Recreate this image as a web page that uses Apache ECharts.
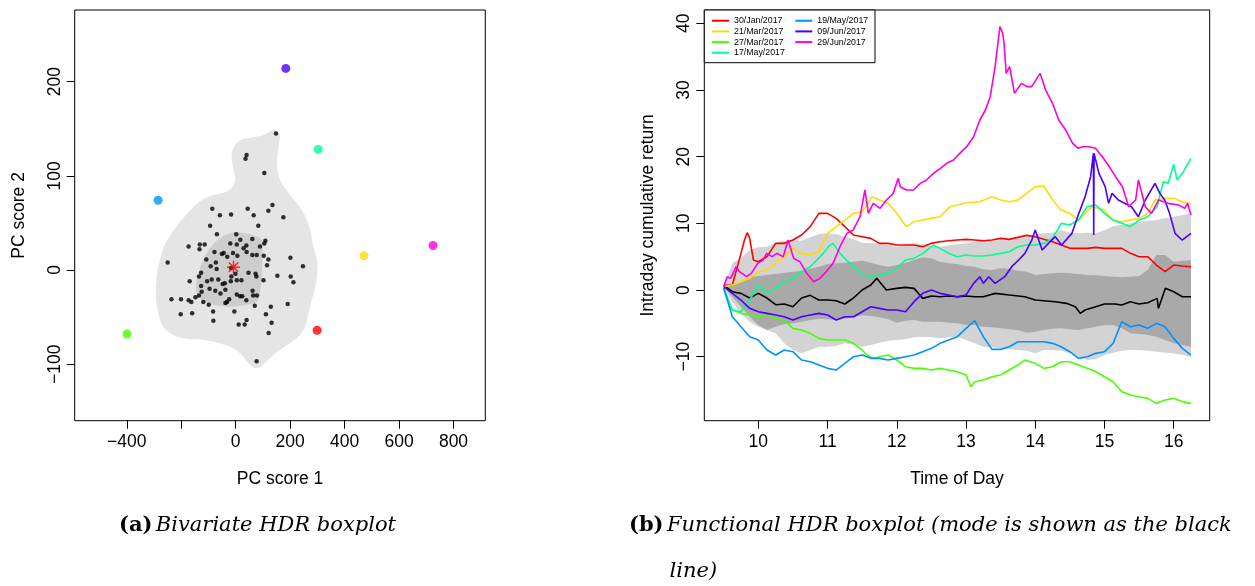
<!DOCTYPE html>
<html>
<head>
<meta charset="utf-8">
<script src="https://cdn.jsdelivr.net/npm/echarts@6.0.0/dist/echarts.min.js"></script>
<style>
  html, body { margin: 0; padding: 0; background: #fff; }
  #chart { width: 1255px; height: 586px; }
</style>
</head>
<body>
<div id="chart"></div>
<script>
// ---- (a) bivariate HDR boxplot: PC scores ----
const pcScores = [
  [148,145],[40,122],[36,118],[105,103],[-86,65],[-58,58],[-17,59],[44,65],[66,58],[135,69],
  [120,63],[175,56],[-94,47],[83,47],[-69,38],[2,38],[17,32],[61,33],[-173,25],[-132,27],
  [-114,27],[-133,22],[-20,28],[4,27],[39,26],[29,23],[89,25],[105,28],[109,31],[61,16],
  [77,16],[103,15],[120,11],[201,13],[-108,11],[-78,19],[-51,17],[-44,18],[-31,14],[-10,18],
  [6,15],[40,19],[-250,8],[-92,4],[-73,8],[-70,1],[-17,2],[-16,-7],[-1,-4],[47,-3],
  [73,-4],[76,-7],[115,5],[153,-6],[202,-7],[247,4],[-169,-12],[-135,-7],[-127,-3],[-105,-12],
  [-88,-10],[-64,-10],[-48,-15],[-40,-14],[-18,-12],[4,-11],[21,-11],[102,-11],[212,-13],[-127,-17],
  [-125,-23],[-96,-20],[-75,-22],[-56,-25],[-38,-21],[-236,-31],[-201,-31],[-173,-32],[-163,-34],[-148,-29],
  [-135,-27],[-119,-34],[-99,-37],[-38,-35],[-32,-34],[-24,-31],[4,-26],[16,-28],[24,-28],[39,-32],
  [64,-27],[62,-22],[78,-27],[70,-38],[-202,-47],[-160,-46],[-83,-44],[-82,-54],[-5,-44],[40,-53],
  [11,-58],[33,-58],[111,-47],[129,-39],[132,-56],[191,-36],[121,-67],[77,-97]
];
const outlierScores = [[299,-64],[471,15],[-399,-68],[303,128],[-285,74],[184,214],[725,26]];
const modeScore = [-8, 3];

// HDR region boundaries (outer = lighter, inner = 50% region)
const outerRegion = [
  [144,149],[163,143],[160,135],[154,124],[153,106],[169,92],[200,80],[230,69],[255,57],[273,43],
  [285,25],[298,11],[300,0],[295,-14],[279,-32],[267,-46],[255,-60],[230,-71],[187,-80],[144,-89],
  [114,-97],[89,-103],[71,-104],[47,-99],[22,-90],[-9,-83],[-58,-78],[-119,-74],[-180,-73],[-229,-69],
  [-266,-60],[-284,-46],[-293,-28],[-290,-7],[-278,11],[-260,27],[-235,39],[-204,51],[-168,63],[-131,73],
  [-88,79],[-45,82],[-15,87],[-2,96],[-11,110],[-15,122],[-2,133],[28,139],[65,141],[102,143],[126,147]
];
const innerRegion = [
  [4,40],[65,37],[96,32],[98,18],[96,-4],[89,-25],[77,-34],[40,-37],[-9,-39],
  [-58,-38],[-107,-35],[-137,-28],[-146,-18],[-137,-4],[-119,11],[-94,23],[-58,34],[-21,39]
];

// ---- (b) functional HDR boxplot: intraday cumulative returns ----
const curveNames = ['30/Jan/2017', '21/Mar/2017', '27/Mar/2017', '17/May/2017', '19/May/2017', '09/Jun/2017', '29/Jun/2017'];

const bandTimes = [9.5,9.625,9.75,9.875,10,10.125,10.25,10.375,10.5,10.625,10.75,10.875,11,11.125,11.25,11.375,11.5,11.625,11.75,11.875,
  12,12.125,12.25,12.375,12.5,12.625,12.75,12.875,13,13.125,13.25,13.375,13.5,13.625,13.75,13.875,14,14.125,14.25,14.375,
  14.5,14.625,14.75,14.875,15,15.125,15.25,15.375,15.5,15.625,15.75,15.875,16,16.125,16.25];
const outerUpper = [0.5,4.0,4.75,6.0,6.4,6.5,7.1,7.4,7.5,7.4,7.9,8.4,8.5,8.35,8.0,7.6,7.1,7.0,7.0,6.7,
  6.5,6.75,7.0,6.85,6.6,6.5,6.7,6.85,7.0,7.25,7.5,7.4,7.5,7.5,7.7,7.9,8.4,8.5,8.6,9.0,
  8.6,8.5,8.6,8.5,9.0,9.6,9.75,10.0,10.25,10.4,10.5,10.75,11.0,11.25,11.5];
const outerLower = [0.5,-1.75,-3.5,-4.75,-5.5,-6.0,-6.5,-8.0,-9.0,-9.5,-9.0,-8.5,-8.5,-8.4,-8.0,-8.25,-8.5,-8.25,-7.9,-7.6,
  -7.5,-7.4,-7.1,-7.0,-7.1,-7.25,-7.1,-7.0,-7.5,-8.0,-8.5,-8.6,-8.75,-8.9,-9.0,-9.1,-9.5,-9.0,-9.0,-9.1,
  -9.5,-10.0,-10.5,-10.4,-9.75,-9.4,-9.1,-9.0,-9.0,-9.1,-9.25,-9.4,-9.5,-9.75,-10.0];
const innerUpper = [0.5,0.75,1.25,1.9,2.1,2.25,2.4,2.6,2.75,2.9,3.2,3.5,3.9,4.0,4.1,4.25,4.4,4.1,3.75,3.5,
  3.75,4.1,4.5,4.9,4.75,4.25,4.0,3.9,3.6,3.5,3.1,3.0,3.25,3.2,2.9,2.75,2.25,2.4,2.5,2.6,
  2.5,2.4,2.25,2.2,2.1,2.0,1.9,2.0,2.1,3.0,5.25,5.25,4.25,4.4,4.5];
const innerLower = [0.5,-1.0,-2.5,-4.0,-5.25,-6.0,-5.5,-5.1,-5.0,-4.75,-4.5,-4.3,-4.4,-4.5,-4.3,-4.1,-3.8,-3.9,-4.1,-4.4,
  -4.9,-4.6,-4.5,-4.75,-4.75,-4.75,-4.9,-5.0,-5.25,-5.25,-5.5,-5.6,-5.75,-5.9,-6.0,-6.4,-6.25,-6.0,-5.8,-5.75,
  -5.9,-6.0,-5.75,-5.5,-5.3,-5.25,-5.75,-6.5,-6.6,-6.75,-7.0,-7.5,-8.0,-8.25,-8.5];

const modeCurve = [[9.5,0.7],[9.625,-0.25],[9.75,-0.5],[9.875,-1.2],[10,-0.5],[10.125,-1.2],[10.25,-2.2],[10.375,-2.1],[10.5,-2.5],
  [10.625,-1.2],[10.75,-0.8],[10.875,-1.5],[11,-1.5],[11.125,-1.6],[11.25,-2.1],[11.375,-1.2],[11.5,0],[11.625,0.75],[11.71,1.75],
  [11.85,0],[12,0.25],[12.125,0.4],[12.25,0.25],[12.375,-1.25],[12.5,-0.9],[12.625,-1.0],[12.75,-0.9],[12.875,-1.0],[13,-0.9],
  [13.13,-1.0],[13.25,-1.0],[13.42,-0.5],[13.625,-0.75],[13.85,-1.0],[14,-1.5],[14.125,-1.6],[14.29,-1.75],[14.45,-2.0],[14.58,-2.5],
  [14.65,-3.5],[14.72,-3.0],[14.875,-2.5],[15,-2.1],[15.15,-2.1],[15.25,-2.25],[15.375,-1.75],[15.5,-2.1],[15.625,-1.9],[15.76,-1.25],
  [15.78,-2.75],[15.88,0.25],[16,-0.25],[16.125,-1.0],[16.25,-1.0]];

const red30Jan = [[9.5,0.7],[9.625,0.75],[9.75,5.5],[9.8,7.5],[9.84,8.6],[9.875,7.8],[9.93,4.5],[10,4.25],[10.125,5.0],[10.25,7.0],
  [10.375,7.0],[10.5,7.5],[10.625,8.25],[10.75,9.5],[10.875,11.5],[11,11.5],[11.125,10.75],[11.25,9.5],[11.375,8.25],[11.5,8.0],
  [11.625,7.75],[11.75,7.0],[11.875,7.0],[12,6.75],[12.125,6.75],[12.25,6.75],[12.375,6.5],[12.5,7.0],[12.625,7.25],[12.75,7.4],
  [12.875,7.5],[13,7.6],[13.125,7.5],[13.25,7.4],[13.375,7.5],[13.5,7.75],[13.625,7.6],[13.75,7.9],[13.875,8.2],[14,8.0],
  [14.125,7.6],[14.25,7.25],[14.375,6.75],[14.5,6.25],[14.625,6.25],[14.75,6.25],[14.875,6.4],[15,6.25],[15.125,6.25],[15.25,6.25],
  [15.375,5.5],[15.5,5.0],[15.625,5.0],[15.75,3.75],[15.875,2.75],[16,3.75],[16.125,3.6],[16.25,3.5]];

const yellow21Mar = [[9.5,0.5],[9.625,0.75],[9.75,1.25],[9.875,1.75],[10,2.75],[10.125,3.0],[10.25,4.0],[10.375,5.0],[10.5,6.25],
  [10.625,5.5],[10.75,5.25],[10.875,5.75],[11,8.5],[11.125,9.5],[11.25,10.5],[11.375,11.5],[11.5,11.75],[11.59,13.0],[11.64,14.0],
  [11.75,13.5],[11.875,13.0],[12,11.5],[12.14,9.5],[12.25,10.25],[12.375,10.5],[12.5,10.75],[12.625,11.0],[12.77,12.5],[12.875,12.75],
  [13,13.1],[13.2,13.25],[13.375,14.0],[13.5,13.5],[13.625,13.25],[13.75,13.5],[13.875,14.5],[14,15.5],[14.125,15.6],[14.25,13.5],
  [14.375,12.0],[14.5,11.5],[14.625,10.5],[14.82,12.5],[15,12.0],[15.11,10.5],[15.25,10.25],[15.375,10.5],[15.5,10.75],[15.625,11.5],
  [15.73,13.5],[15.875,13.75],[16,13.75],[16.125,13.25],[16.25,12.9]];

const green27Mar = [[9.5,0.3],[9.56,-1.5],[9.625,-3.0],[9.75,-3.5],[9.875,-3.75],[10,-4.0],[10.125,-3.75],[10.25,-4.25],[10.375,-4.5],
  [10.5,-5.75],[10.625,-6.0],[10.75,-6.5],[10.875,-7.25],[11,-7.5],[11.125,-7.5],[11.25,-7.5],[11.375,-8.0],[11.5,-9.0],[11.57,-9.75],
  [11.66,-10.25],[11.75,-10.0],[11.875,-9.75],[12,-10.5],[12.125,-11.5],[12.25,-11.75],[12.375,-11.75],[12.5,-12.0],[12.625,-11.75],
  [12.75,-12.0],[12.875,-12.25],[13,-12.75],[13.07,-14.5],[13.125,-13.75],[13.25,-13.5],[13.375,-13.0],[13.5,-12.75],[13.625,-12.0],
  [13.75,-11.25],[13.85,-10.5],[14,-11.0],[14.125,-11.75],[14.25,-11.5],[14.375,-10.75],[14.5,-10.75],[14.625,-11.25],[14.75,-11.75],
  [14.875,-12.25],[15,-13.0],[15.125,-13.75],[15.25,-15.25],[15.375,-15.75],[15.5,-16.0],[15.625,-16.25],[15.75,-17.0],[15.875,-16.5],
  [16,-16.25],[16.125,-16.75],[16.25,-17.0]];

const spring17May = [[9.5,0.3],[9.625,-3.0],[9.75,-3.25],[9.875,-1.5],[10,0.75],[10.125,-0.5],[10.25,0.25],[10.375,1.25],[10.5,1.75],
  [10.625,2.75],[10.75,3.5],[10.94,5.5],[11.01,6.5],[11.08,7.0],[11.18,5.5],[11.25,4.75],[11.375,3.5],[11.5,2.25],[11.625,2.0],
  [11.75,2.25],[11.875,2.5],[12,3.25],[12.125,4.5],[12.25,4.75],[12.375,5.5],[12.53,6.75],[12.625,6.25],[12.75,5.5],[12.875,5.0],
  [13,5.25],[13.125,5.1],[13.25,5.1],[13.375,5.25],[13.5,5.5],[13.625,5.75],[13.75,6.5],[13.875,6.75],[14,6.75],[14.125,7.0],
  [14.25,7.75],[14.375,10.0],[14.5,9.75],[14.625,10.5],[14.75,12.5],[14.875,12.75],[15,11.5],[15.125,10.5],[15.25,10.0],[15.375,9.5],
  [15.5,10.5],[15.625,11.0],[15.76,12.5],[15.85,16.25],[15.92,16.0],[16,18.85],[16.05,16.5],[16.125,17.5],[16.25,19.75]];

const blue19May = [[9.5,0.3],[9.625,-4.0],[9.75,-5.5],[9.875,-7.0],[10,-7.5],[10.125,-9.0],[10.25,-9.75],[10.375,-9.0],[10.5,-9.25],
  [10.625,-10.5],[10.75,-10.75],[10.875,-11.25],[11,-11.75],[11.125,-12.0],[11.25,-11.0],[11.375,-10.0],[11.5,-9.75],[11.625,-10.25],
  [11.75,-10.25],[11.875,-10.5],[12,-10.25],[12.125,-10.0],[12.25,-9.75],[12.375,-9.25],[12.5,-8.75],[12.625,-8.0],[12.75,-7.5],
  [12.875,-7.0],[13,-5.75],[13.125,-4.6],[13.25,-7.0],[13.375,-8.9],[13.5,-8.9],[13.625,-8.5],[13.75,-7.75],[13.875,-7.75],[14,-7.75],
  [14.125,-7.75],[14.25,-8.0],[14.375,-8.5],[14.5,-9.25],[14.625,-10.25],[14.75,-10.0],[14.875,-9.5],[15,-9.25],[15.125,-8.0],
  [15.25,-4.75],[15.375,-5.5],[15.5,-5.25],[15.625,-5.75],[15.75,-5.0],[15.875,-5.5],[16,-7.25],[16.125,-8.75],[16.25,-9.75]];

const purple09Jun = [[9.5,0.5],[9.625,-0.5],[9.75,-1.5],[9.875,-2.75],[10,-3.25],[10.125,-3.5],[10.25,-3.75],[10.375,-4.0],[10.5,-4.5],
  [10.625,-4.0],[10.75,-3.75],[10.875,-3.5],[11,-3.75],[11.125,-4.5],[11.25,-4.0],[11.375,-4.0],[11.5,-3.25],[11.625,-2.5],[11.75,-2.75],
  [11.875,-3.0],[12,-3.0],[12.125,-3.25],[12.25,-1.75],[12.375,-0.5],[12.5,0.0],[12.625,-0.5],[12.75,-0.75],[12.875,-1.0],[13,-0.75],
  [13.11,1.0],[13.2,2.0],[13.25,1.0],[13.33,2.0],[13.42,1.0],[13.56,2.0],[13.66,3.5],[13.76,4.5],[13.85,5.5],[13.95,7.5],[14,9.0],
  [14.1,6.0],[14.19,7.0],[14.29,8.0],[14.38,6.75],[14.53,8.5],[14.63,11.5],[14.72,14.0],[14.8,17.0],[14.84,20.5],[14.845,8.25],
  [14.85,20.5],[14.92,17.5],[15.01,15.5],[15.06,13.0],[15.11,14.5],[15.2,13.5],[15.39,12.5],[15.49,11.0],[15.59,13.5],[15.73,16.0],
  [15.8,14.5],[15.87,13.5],[15.94,11.5],[16.02,8.5],[16.12,7.5],[16.25,8.5]];

const magenta29Jun = [[9.5,0.5],[9.55,2.0],[9.6,1.75],[9.68,3.5],[9.73,2.75],[9.83,2.0],[9.9,2.5],[9.99,4.0],[10.07,4.5],[10.12,5.5],
  [10.2,5.0],[10.27,5.5],[10.36,5.0],[10.43,7.5],[10.51,4.75],[10.6,4.25],[10.7,2.5],[10.8,1.25],[10.89,1.75],[10.98,2.75],[11.08,4.0],
  [11.18,6.5],[11.28,8.5],[11.37,9.0],[11.47,11.0],[11.54,15.0],[11.59,11.5],[11.66,13.0],[11.76,12.25],[11.85,13.5],[11.95,14.5],
  [12.02,16.75],[12.05,15.5],[12.14,15.0],[12.24,15.0],[12.34,16.0],[12.43,16.5],[12.53,17.5],[12.63,18.25],[12.72,19.0],[12.82,19.5],
  [12.91,20.5],[13.01,21.5],[13.11,23.0],[13.2,25.5],[13.28,27.0],[13.35,29.0],[13.42,33.5],[13.49,39.5],[13.53,38.5],[13.55,37.0],
  [13.58,32.5],[13.63,33.5],[13.7,29.5],[13.8,31.0],[13.88,30.5],[13.95,30.5],[14.07,32.5],[14.15,30.0],[14.25,28.0],[14.34,25.5],
  [14.44,24.0],[14.54,22.0],[14.62,21.25],[14.68,21.5],[14.78,21.5],[14.87,21.25],[14.97,20.0],[15.07,18.5],[15.16,17.0],[15.26,15.5],
  [15.35,12.5],[15.45,13.5],[15.49,16.5],[15.59,12.5],[15.68,11.5],[15.78,13.5],[15.92,13.0],[16.07,12.75],[16.16,12.25],[16.2,13.0],
  [16.25,11.25]];

const curves = [red30Jan, yellow21Mar, green27Mar, spring17May, blue19May, purple09Jun, magenta29Jun];
const curveColors = ['#FF0000', '#FFDB00', '#49FF00', '#00FF92', '#0092FF', '#4900FF', '#FF00DB'];

const sans = "'Liberation Sans', Arial, Helvetica, sans-serif";
const serif = "'DejaVu Serif', 'Liberation Serif', serif";
const tickFont = 17.5;
const captionFont = 21;

function minusFmt(v) {
  return v < 0 ? '\u2212' + Math.abs(v) : String(v);
}

function makeAxis(gridIndex, min, max, ticks, labels, name, nameGap, vertical) {
  return {
    type: 'value', gridIndex: gridIndex, min: min, max: max,
    axisLine: { show: false, onZero: false },
    splitLine: { show: false },
    axisTick: { show: true, customValues: ticks, length: 8, lineStyle: { color: '#000', width: 1 } },
    axisLabel: {
      customValues: labels, formatter: minusFmt, color: '#000',
      fontFamily: sans, fontSize: tickFont, margin: vertical ? 11 : 12,
      rotate: vertical ? 90 : 0
    },
    name: name, nameLocation: 'middle', nameGap: nameGap,
    nameTextStyle: { fontFamily: sans, fontSize: tickFont, color: '#000' }
  };
}

function regionSeries(points, fill, xi, yi, anchor, smooth) {
  return {
    type: 'custom', xAxisIndex: xi, yAxisIndex: yi, silent: true, data: [anchor], z: 1,
    renderItem: function (params, api) {
      return {
        type: 'polygon',
        shape: { points: points.map(p => api.coord(p)), smooth: smooth },
        style: { fill: fill, stroke: null }
      };
    }
  };
}

function bandPoints(upper, lower) {
  const up = bandTimes.map((t, i) => [t, upper[i]]);
  const down = bandTimes.map((t, i) => [t, lower[i]]).reverse();
  return up.concat(down);
}

const chart = echarts.init(document.getElementById('chart'), null, { renderer: 'canvas' });

const lineSeries = curves.map((d, i) => ({
  type: 'line', name: curveNames[i], xAxisIndex: 1, yAxisIndex: 1, data: d,
  showSymbol: false, symbol: 'none', z: 4,
  lineStyle: { color: curveColors[i], width: 1.6 },
  itemStyle: { color: curveColors[i] }
}));

const legendCommon = {
  orient: 'vertical', padding: 0, itemGap: 0, itemWidth: 17, itemHeight: 2, icon: 'rect',
  selectedMode: false, z: 10,
  textStyle: { fontFamily: sans, fontSize: 8.8, color: '#000', lineHeight: 10.67 }
};

const captionRich = {
  b: { fontFamily: serif, fontWeight: 'bold', fontSize: captionFont, fill: '#000' },
  i: { fontFamily: serif, fontStyle: 'italic', fontSize: captionFont, fill: '#000' }
};

chart.setOption({
  animation: false,
  backgroundColor: '#fff',
  grid: [
    { left: 74.7, top: 10, width: 410.6, height: 410.7, show: true, borderColor: '#000', borderWidth: 1, backgroundColor: 'transparent' },
    { left: 704.3, top: 10, width: 505.4, height: 410.7, show: true, borderColor: '#000', borderWidth: 1, backgroundColor: 'transparent' }
  ],
  xAxis: [
    makeAxis(0, -591.4, 916.8, [-400, -200, 0, 200, 400, 600, 800], [-400, 0, 200, 400, 600, 800], 'PC score 1', 49, false),
    makeAxis(1, 9.22, 16.52, [10, 11, 12, 13, 14, 15, 16], [10, 11, 12, 13, 14, 15, 16], 'Time of Day', 49, false)
  ],
  yAxis: [
    makeAxis(0, -160, 276, [-100, 0, 100, 200], [-100, 0, 100, 200], 'PC score 2', 47, true),
    makeAxis(1, -19.6, 42, [-10, 0, 10, 20, 30, 40], [-10, 0, 10, 20, 30, 40], 'Intraday cumulative return', 47, true)
  ],
  legend: [
    Object.assign({ left: 712, top: 15.4, data: curveNames.slice(0, 4) }, legendCommon),
    Object.assign({ left: 795.3, top: 15.4, data: curveNames.slice(4) }, legendCommon)
  ],
  graphic: [
    { type: 'rect', z: 5, shape: { x: 704.3, y: 10, width: 170.7, height: 52.7 },
      style: { fill: '#fff', stroke: '#000', lineWidth: 1 } },
    { type: 'text', z: 5, x: 257.5, y: 526,
      style: { text: '{b|(a)} {i|Bivariate HDR boxplot}', align: 'center', verticalAlign: 'middle', rich: captionRich } },
    { type: 'text', z: 5, x: 629, y: 526,
      style: { text: '{b|(b)} {i|Functional HDR boxplot (mode is shown as the black}', align: 'left', verticalAlign: 'middle', rich: captionRich } },
    { type: 'text', z: 5, x: 669.5, y: 572,
      style: { text: '{i|line)}', align: 'left', verticalAlign: 'middle', rich: captionRich } }
  ],
  series: [
    regionSeries(outerRegion, '#E5E5E5', 0, 0, [0, 0], 0.35),
    regionSeries(innerRegion, '#CDCDCD', 0, 0, [0, 0], 0.35),
    {
      type: 'scatter', xAxisIndex: 0, yAxisIndex: 0, data: pcScores, symbolSize: 4.5, z: 3,
      itemStyle: { color: '#000' }, silent: true
    },
    {
      type: 'scatter', xAxisIndex: 0, yAxisIndex: 0, symbolSize: 9, z: 3, silent: true,
      data: outlierScores.map((p, i) => ({ value: p, itemStyle: { color: curveColors[i] } }))
    },
    {
      type: 'scatter', xAxisIndex: 0, yAxisIndex: 0, data: [modeScore], symbolSize: 13, z: 4, silent: true,
      symbol: 'path://M8.8,0h2.4v20h-2.4z M0,8.8h20v2.4h-20z M2.0,3.7l1.7,-1.7l14.3,14.3l-1.7,1.7z M16.3,2.0l1.7,1.7l-14.3,14.3l-1.7,-1.7z',
      itemStyle: { color: '#FF0000' }
    },
    regionSeries(bandPoints(outerUpper, outerLower), '#D3D3D3', 1, 1, [12, 0], 0),
    regionSeries(bandPoints(innerUpper, innerLower), '#A9A9A9', 1, 1, [12, 0], 0),
    {
      type: 'line', name: 'mode', xAxisIndex: 1, yAxisIndex: 1, data: modeCurve,
      showSymbol: false, symbol: 'none', z: 3,
      lineStyle: { color: '#000', width: 1.6 }, itemStyle: { color: '#000' }
    }
  ].concat(lineSeries)
});

window.addEventListener('resize', function () { chart.resize(); });
</script>
</body>
</html>
